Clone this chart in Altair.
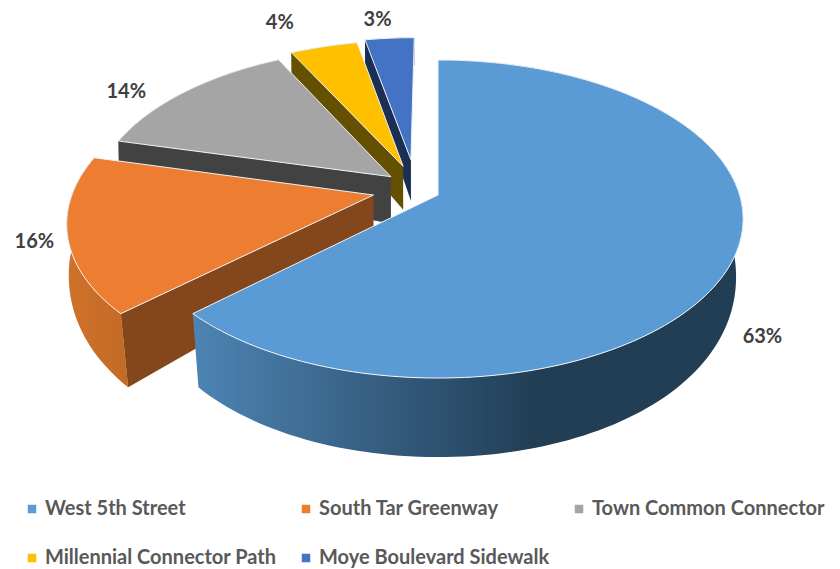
import math
import altair as alt
import pandas as pd

# --- chart values ---
categories = ["West 5th Street", "South Tar Greenway", "Town Common Connector",
              "Millennial Connector Path", "Moye Boulevard Sidewalk"]
values = [63.0, 16.0, 13.5, 4.3, 3.2]
label_texts = ["63%", "16%", "14%", "4%", "3%"]
top_colors = ["#5b9bd5", "#ed7d31", "#a5a5a5", "#ffc000", "#4472c4"]
wall_colors = ["#223e55", "#84471b", "#424242", "#645000", "#1b2f55"]
explode_x = [0.0, -0.214, -0.159, -0.119, -0.093]
explode_z = [0.0, 0.0, -0.12, -0.19, -0.235]
radii = [1.0, 1.0, 0.99, 0.98, 0.96]
label_dx = [30, -33, -59, -44, -12]
label_dy = [76, 7, 0, -24, -18]

# --- 3-D pie projection ---
W, H = 824, 561
CX, CY, A, B, K = 438, 195, 155.4, 301.6, 0.151


def project(X, Z):
    s = 1 / (1 - K * Z)
    return CX + B * X * s, CY + A * Z * s


def lower(X, Z):
    x, y = project(X, Z)
    if x > CX:
        f = 0.977
    else:
        f = 1 - 0.023 * min(1.0, max(0.08, Z / 0.685))
    return CX + (x - CX) * f, y + max(28, 52 + 42 * Z - 15 * Z * Z)


def disc(i, deg):
    a = math.radians(deg)
    return explode_x[i] + radii[i] * math.sin(a), explode_z[i] - radii[i] * math.cos(a)


total = sum(values)
starts, cum = [], 0
for v in values:
    starts.append(cum / total * 360)
    cum += v
ends = [s + v / total * 360 for s, v in zip(starts, values)]


def arc_degrees(a, b):
    n = max(4, int((b - a) / 1.5))
    return [a + (b - a) * j / n for j in range(n + 1)]


def frame(points, name):
    return pd.DataFrame({"x": [p[0] for p in points], "y": [p[1] for p in points],
                         "n": list(range(len(points))), "series": name})


top_frames, radial, rim, labels = [], [], [], []
for i, name in enumerate(categories):
    apex = (explode_x[i], explode_z[i])
    degs = arc_degrees(starts[i], ends[i])
    rim_pts = [disc(i, d) for d in degs]
    top_frames.append(frame([project(*apex)] + [project(*p) for p in rim_pts] + [project(*apex)], name))
    edge = disc(i, starts[i])
    radial.append(frame([project(*apex), project(*edge), lower(*edge), lower(*apex), project(*apex)], name))
    rim.append(frame([project(*p) for p in rim_pts] + [lower(*p) for p in reversed(rim_pts)], name))
    lx, ly = project(*disc(i, (starts[i] + ends[i]) / 2))
    labels.append(pd.DataFrame({"x": [lx], "y": [ly], "t": [label_texts[i]]}))

X = alt.X("x:Q", scale=alt.Scale(domain=[8, 8 + W], nice=False, zero=False), axis=None)
Y = alt.Y("y:Q", scale=alt.Scale(domain=[8 + H, 8], nice=False, zero=False), axis=None)


def grad(stops):
    return alt.Gradient(gradient="linear", x1=0, x2=1, y1=0, y2=0,
                        stops=[alt.GradientStop(offset=o, color=c) for o, c in stops])


rim_fills = [
    grad([(0, "#4d84b4"), (0.62, "#223e55"), (1, "#223e55")]),
    grad([(0, "#cf722b"), (1, "#c36a26")]),
    wall_colors[2], wall_colors[3], wall_colors[4],
]


def poly(df, fill):
    return alt.Chart(df).mark_line(fill=fill, strokeWidth=0, interpolate="linear").encode(
        x=X, y=Y, order="n:Q")


walls = []
for i in [4, 3, 2, 1, 0]:
    walls.append(poly(rim[i], rim_fills[i]))
    walls.append(poly(radial[i], wall_colors[i]))

tops = alt.Chart(pd.concat(top_frames, ignore_index=True)).mark_line(
    stroke="#eef3f8", strokeWidth=1, strokeJoin="round"
).encode(
    x=X, y=Y, order="n:Q", detail="series:N",
    fill=alt.Fill("series:N",
                  scale=alt.Scale(domain=categories, range=top_colors),
                  legend=alt.Legend(
                      title=None, orient="none", legendX=14, legendY=491, columns=3,
                      direction="horizontal",
                      symbolType="square", symbolSize=72, symbolStrokeWidth=0,
                      labelFont="Lato", labelFontSize=20, labelFontWeight=700,
                      labelColor="#595959", labelLimit=300, labelOffset=3,
                      columnPadding=19, rowPadding=29, padding=0,
                  )),
)

texts = [
    alt.Chart(labels[i]).mark_text(
        font="Lato", fontSize=20, fontWeight=700, color="#404040",
        dx=label_dx[i], dy=label_dy[i]
    ).encode(x=X, y=Y, text="t:N")
    for i in range(len(categories))
]

chart = alt.layer(*walls, tops, *texts).properties(
    width=W, height=H, padding=0, autosize=alt.AutoSizeParams(type="none")
).configure_view(stroke=None)

chart.save("out.html", embed_options={"renderer": "svg", "actions": False})
